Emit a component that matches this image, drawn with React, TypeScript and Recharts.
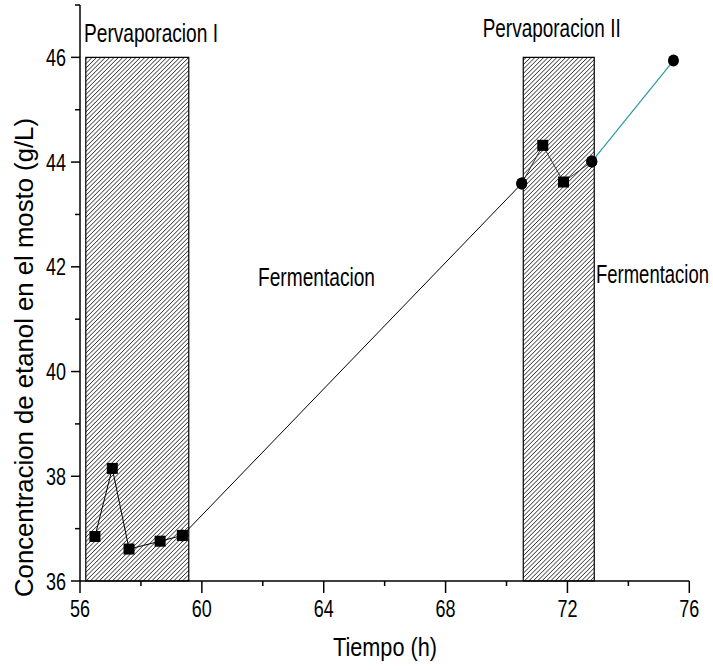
import React from "react";
import {
  ComposedChart,
  Line,
  XAxis,
  YAxis,
  ReferenceArea,
} from "recharts";

// Tiempo (h) / concentracion (g/L)
const pervI_t = [56.49, 57.06, 57.61, 58.63, 59.36];
const pervI_c = [36.85, 38.15, 36.61, 36.76, 36.87];

const ferm1_t = [59.36, 70.5];
const ferm1_c = [36.87, 43.59];

const pervII_t = [70.5, 71.19, 71.87, 72.8];
const pervII_c = [43.59, 44.32, 43.62, 44.01];
const pervII_marker = ["circle", "square", "square", "circle"];

const ferm2_t = [72.8, 75.48];
const ferm2_c = [44.01, 45.94];

const pervI_zone = [56.19, 59.57];
const pervII_zone = [70.55, 72.88];
const zoneTop = 46;

const xTicks = [56, 58, 60, 62, 64, 66, 68, 70, 72, 74, 76];
const yTicks = [36, 37, 38, 39, 40, 41, 42, 43, 44, 45, 46, 47];

const build = (t: number[], c: number[], m?: string[]) =>
  t.map((v, i) => ({ t: v, c: c[i], marker: m ? m[i] : undefined }));

// no Arial Narrow available: squeeze Liberation Sans with textLength
const FONT = '"Liberation Sans", Arial, sans-serif';

const squareDot = (props: any) => {
  const { cx, cy, index } = props;
  return <rect key={index} x={cx - 5.5} y={cy - 5.5} width={11} height={11} fill="#000" />;
};

const circleDot = (props: any) => {
  const { cx, cy, index } = props;
  return <ellipse key={index} cx={cx} cy={cy} rx={5.5} ry={6} fill="#000" />;
};

const mixedDot = (props: any) =>
  props.payload.marker === "square" ? squareDot(props) : circleDot(props);

const XTick = (props: any) => {
  const { x, y, payload } = props;
  const major = payload.value % 4 === 0;
  return (
    <g>
      <line x1={x} y1={y} x2={x} y2={y + (major ? 12 : 5)} stroke="#000" strokeWidth={1.5} />
      {major && (
        <text
          x={x}
          y={y + 36}
          textAnchor="middle"
          fontFamily={FONT}
          fontSize={23.5}
          textLength={20}
          lengthAdjust="spacingAndGlyphs"
          fill="#000"
        >
          {payload.value}
        </text>
      )}
    </g>
  );
};

const YTick = (props: any) => {
  const { x, y, payload } = props;
  const major = payload.value % 2 === 0 && payload.value <= 46;
  return (
    <g>
      <line x1={x} y1={y} x2={x - (major ? 9 : 5)} y2={y} stroke="#000" strokeWidth={1.5} />
      {major && (
        <text
          x={x - 14}
          y={y + 8.5}
          textAnchor="end"
          fontFamily={FONT}
          fontSize={23.5}
          textLength={20}
          lengthAdjust="spacingAndGlyphs"
          fill="#000"
        >
          {payload.value}
        </text>
      )}
    </g>
  );
};

const Note = ({ x, y, w, size, anchor = "middle", children }: any) => (
  <text
    x={x}
    y={y}
    textAnchor={anchor}
    fontFamily={FONT}
    fontSize={size}
    textLength={w}
    lengthAdjust="spacingAndGlyphs"
    fill="#000"
  >
    {children}
  </text>
);

const App = () => {
  return (
    <div style={{ position: "absolute", left: 0, top: 0, width: 713, height: 670, background: "#fff" }}>
      <ComposedChart
        width={713}
        height={670}
        margin={{ top: 5, right: 23.7, bottom: 49, left: 20 }}
      >
        <defs>
          <pattern
            id="hatch"
            patternUnits="userSpaceOnUse"
            width={3.1}
            height={10}
            patternTransform="rotate(45)"
          >
            <rect width={3.1} height={10} fill="#fff" />
            <line x1={0} y1={0} x2={0} y2={10} stroke="#000" strokeWidth={1.2} />
          </pattern>
        </defs>
        <XAxis
          dataKey="t"
          type="number"
          domain={[56, 76]}
          ticks={xTicks}
          allowDataOverflow
          height={40}
          tickSize={0}
          tickMargin={0}
          tickLine={false}
          axisLine={{ stroke: "#000", strokeWidth: 1.5 }}
          tick={<XTick />}
          interval={0}
        />
        <YAxis
          type="number"
          domain={[36, 47]}
          ticks={yTicks}
          allowDataOverflow
          width={60}
          tickSize={0}
          tickMargin={0}
          tickLine={false}
          axisLine={{ stroke: "#000", strokeWidth: 1.5 }}
          tick={<YTick />}
          interval={0}
        />
        <ReferenceArea
          x1={pervI_zone[0]}
          x2={pervI_zone[1]}
          y1={36}
          y2={zoneTop}
          fill="url(#hatch)"
          fillOpacity={1}
          stroke="#000"
          strokeWidth={1.2}
        />
        <ReferenceArea
          x1={pervII_zone[0]}
          x2={pervII_zone[1]}
          y1={36}
          y2={zoneTop}
          fill="url(#hatch)"
          fillOpacity={1}
          stroke="#000"
          strokeWidth={1.2}
        />
        <Line
          data={build(ferm1_t, ferm1_c)}
          dataKey="c"
          type="linear"
          stroke="#000"
          strokeWidth={1}
          dot={circleDot}
          isAnimationActive={false}
        />
        <Line
          data={build(pervI_t, pervI_c)}
          dataKey="c"
          type="linear"
          stroke="#000"
          strokeWidth={1}
          dot={squareDot}
          isAnimationActive={false}
        />
        <Line
          data={build(pervII_t, pervII_c, pervII_marker)}
          dataKey="c"
          type="linear"
          stroke="#333"
          strokeWidth={1}
          dot={mixedDot}
          isAnimationActive={false}
        />
        <Line
          data={build(ferm2_t, ferm2_c)}
          dataKey="c"
          type="linear"
          stroke="#2a9a9e"
          strokeWidth={1.2}
          dot={circleDot}
          isAnimationActive={false}
        />
        <Note x={151} y={41.5} w={134} size={25}>Pervaporacion I</Note>
        <Note x={551.7} y={36.5} w={138} size={25}>Pervaporacion II</Note>
        <Note x={316.5} y={285.5} w={117} size={25.5}>Fermentacion</Note>
        {/* right-edge label: smaller font stretched vertically so it stays inside */}
        <g transform="translate(0 283) scale(1 1.33) translate(0 -283)">
          <text
            x={709}
            y={283}
            textAnchor="end"
            fontFamily={FONT}
            fontSize={19}
            textLength={113}
            lengthAdjust="spacingAndGlyphs"
            fill="#000"
          >
            Fermentacion
          </text>
        </g>
        <Note x={385} y={656} w={104} size={25.5}>Tiempo (h)</Note>
        <text
          x={33}
          y={357.5}
          textAnchor="middle"
          transform="rotate(-90 33 357.5)"
          fontFamily={FONT}
          fontSize={26}
          textLength={479}
          lengthAdjust="spacingAndGlyphs"
          fill="#000"
        >
          Concentracion de etanol en el mosto (g/L)
        </text>
      </ComposedChart>
    </div>
  );
};

export default App;
